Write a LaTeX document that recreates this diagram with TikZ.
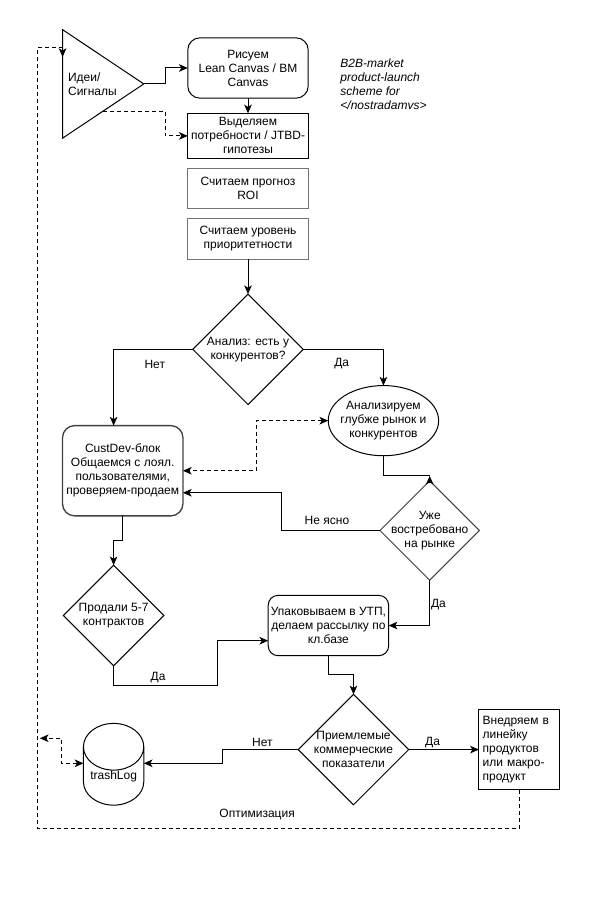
\documentclass[tikz,border=0pt]{standalone}
\usepackage{fontspec}
\setmainfont{Liberation Sans}
\usetikzlibrary{arrows.meta,positioning,calc,shapes.geometric}
\tikzset{
  >={Stealth[length=2.3mm,width=2mm,inset=0.6mm]},
  every node/.style={font=\fontsize{9}{10.5}\selectfont, outer sep=0pt},
  every path/.style={line width=0.75pt},
  proc/.style={draw, rounded corners=3.2mm, align=center, inner sep=0pt, minimum width=31.75mm},
  plain/.style={draw, align=center, inner sep=0pt, minimum width=31.75mm},
  faint/.style={plain, draw=black!55, minimum height=10.6mm},
  ask/.style={draw, diamond, aspect=1, align=center, inner sep=-2.5mm, minimum width=#1, minimum height=#1},
  lbl/.style={inner sep=1pt},
  dashline/.style={dash pattern=on 3pt off 2.25pt},
}
\begin{document}
\begin{tikzpicture}[x=0.75pt,y=-0.75pt]
  \useasboundingbox (0,0) rectangle (589,920);
  \node[proc, minimum height=15.9mm] (canvas) at (248,68) {Рисуем\\Lean Canvas / BM\\Canvas};
  \node[plain, line width=0.9pt, minimum height=11.9mm, below=4mm of canvas] (needs) {Выделяем\\потребности / JTBD-\\гипотезы};
  \node[faint, below=2.65mm of needs] (roi) {Считаем прогноз\\ROI};
  \node[faint, below=2.65mm of roi] (prio) {Считаем уровень\\приоритетности};
  \node[ask=29.1mm, below=9.26mm of prio] (market) {Анализ: есть у\\конкурентов?};
  \node[draw, isosceles triangle, isosceles triangle apex angle=67.4, isosceles triangle stretches, minimum width=28.6mm, minimum height=21.4mm, inner sep=0pt, align=left, left=11.6mm of canvas, yshift=-4.2mm] (ideas) {Идеи/\\Сигналы};
  \node[align=left, inner sep=0pt, right=8.5mm of canvas, yshift=-4.2mm, font=\fontsize{9}{10.5}\selectfont\itshape] (note) {B2B-market\\product-launch\\scheme for\\</nostradamvs>};
  \node[draw, ellipse, align=center, inner sep=-2.5mm, minimum width=29.1mm, minimum height=18.5mm, right=6.6mm of market, yshift=-18.8mm] (deep) {Анализируем\\глубже рынок и\\конкурентов};
  \node[proc, draw=black!75, line width=1pt, minimum height=23.8mm, left=2.6mm of market, yshift=-32mm] (cust) {CustDev-блок\\Общаемся с лоял.\\пользователями,\\проверяем-продаем};
  \node[ask=26.2mm, draw=black!75, below=6.6mm of deep, xshift=12.2mm] (demand) {Уже\\востребовано\\на рынке};
  \node[ask=26.5mm, below=13mm of cust, xshift=-2.4mm] (sold) {Продали 5-7\\контрактов};
  \node[proc, rounded corners=2.6mm, minimum height=15.9mm, below=4mm of demand, xshift=-26.7mm] (pack) {Упаковываем в УТП,\\делаем рассылку по\\кл.базе};
  \node[ask=29.1mm, below=10.2mm of pack, xshift=6.6mm] (metrics) {Приемлемые\\коммерческие\\показатели};
  \node[plain, align=left, text width=19.2mm, minimum width=21.2mm, minimum height=21.2mm, inner xsep=1mm, right=18.5mm of metrics] (impl) {Внедряем в\\линейку\\продуктов\\или макро-\\продукт};
  \node[draw, cylinder, shape border rotate=90, aspect=1, inner sep=0pt, minimum width=15.9mm, minimum height=21.2mm, below=15.2mm of sold] (trash) {trashLog};
  \coordinate[left=6.6mm of ideas.left corner, yshift=-4.8mm] (back);

  \draw[->] (ideas.east) -- ++(5.8mm,0) |- (canvas.west);
  \draw[->] (canvas) -- (needs);
  \draw[dashline,->] (ideas.right side) -- ++(16.4mm,0) |- (needs.west);
  \draw[->] (prio) -- (market);
  \draw[->] (market.west) -| node[lbl, pos=0.24, below=2.5mm] {Нет} (cust.north -| sold.north);
  \draw[->] (market.east) -| node[lbl, pos=0.24, below=2mm] {Да} (deep.north);
  \draw[dashline,<->] (deep.west) -- ++(-19mm,0) |- (cust.east);
  \draw (deep.south) |- ($(demand.north)+(0,1.3mm)$);
  \draw[->] ([yshift=-0.6mm]demand.north) -- ++(0,1.9mm);
  \draw[->] (demand.west) -- node[lbl, pos=0.54, above=1.2mm] {Не ясно} ++(-25.9mm,0) |- ([yshift=-5.8mm]cust.east);
  \draw[->] (cust.south) -- ++(0,-6.4mm) -| (sold.north);
  \draw[->] (sold.south) -- ++(0,-5.3mm) -- node[lbl, pos=0.43, above=0.5mm] {Да} ++(27.3mm,0) |- ([yshift=-4mm]pack.west);
  \draw[->] (demand.south) |- node[lbl, pos=0.27, right] {Да} (pack.east);
  \draw[->] (pack.south) -- ++(0,-5mm) -| (metrics.north);
  \draw[->] (metrics.west) -- node[lbl, pos=0.47, above=0.5mm] {Нет} ++(-20.1mm,0) |- ([yshift=3.4mm]trash.east);
  \draw[->] (metrics.east) -- node[lbl, pos=0.34, above] {Да} (impl.west);
  \draw[dashline,<->] ([yshift=3.4mm]trash.west) -- ++(-5.7mm,0) |- ++(-5.8mm,6.6mm);
  \draw[dashline,->] (impl.south) -- ++(0,-10.3mm) -| node[lbl, pos=0.272, above=2mm] {Оптимизация} (back) -- (back -| ideas.left corner) -- ++(0,-2.4mm);
\end{tikzpicture}
\end{document}
